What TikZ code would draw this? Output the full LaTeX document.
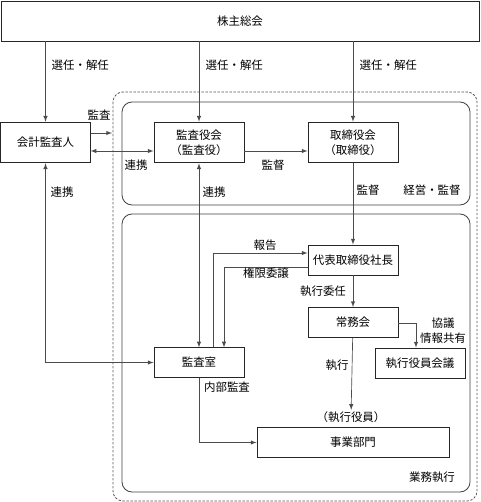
\documentclass[tikz,border=0pt]{standalone}
\usepackage{fontspec}
\usepackage{tikz}
\newfontfamily\jpfont{Noto Sans CJK JP}
\tikzstyle{box}=[shape=rectangle,draw=black!85,line width=0.7pt,fill=white,align=center,inner sep=1pt]
\tikzstyle{lbl}=[inner sep=1pt]
\tikzstyle{link}=[draw=black!70,line width=0.5pt]
\tikzstyle{area}=[draw=black!75,line width=0.6pt,rounded corners=7.5pt]

\begin{document}
\begin{tikzpicture}[x=0.75pt,y=-0.75pt,>=latex,
		every node/.style={font=\jpfont\fontsize{8.6}{11}\selectfont}]
		\useasboundingbox (0,0) rectangle (480,502);

		% areas
		\draw[area,dash pattern=on 1.8pt off 1.2pt,draw=black!65] (113,92) rectangle (477,501);
		\draw[area] (122,102) rectangle (470,205);
		\draw[area] (122,214) rectangle (470,492);

		% boxes
		\node[box,minimum width=358.5pt,minimum height=30pt] (soukai) at (240,21) {株主総会};
		\node[box,minimum width=67pt,minimum height=30.5pt] (kaikei) at (45.5,142.5) {会計監査人};
		\node[box,minimum width=67.5pt,minimum height=30.5pt] (kansayaku) at (199,142.5) {監査役会\\（監査役）};
		\node[box,minimum width=67.5pt,minimum height=30.5pt] (torishimari) at (353,142.5) {取締役会\\（取締役）};
		\node[box,minimum width=67.5pt,minimum height=22.5pt] (daihyo) at (353,260) {代表取締役社長};
		\node[box,minimum width=67.5pt,minimum height=22.5pt] (joumu) at (353,322.5) {常務会};
		\node[box,minimum width=67.5pt,minimum height=22.5pt] (kaigi) at (420,363) {執行役員会議};
		\node[box,minimum width=67.5pt,minimum height=22pt] (kansashitsu) at (199,362.5) {監査室};
		\node[box,minimum width=144pt,minimum height=22pt] (jigyou) at (353,442.5) {事業部門};
		\node[lbl] (yakuin) at (351,417) {（執行役員）};

		% helper points
		\coordinate (kansaend) at (112,133);
		\coordinate (renkei) at (0,151);
		\coordinate (houkoku) at (213,253);
		\coordinate (kengen) at (224,267);
		\coordinate (kyougi) at (416,323);

		% connectors
		\draw[link,->] (soukai.south -| kaikei) -- (kaikei.north);
		\draw[link,->] (soukai.south -| kansayaku) -- (kansayaku.north);
		\draw[link,->] (soukai.south -| torishimari) -- (torishimari.north);
		\draw[link,->] (kaikei.east |- kansaend) -- (kansaend);
		\draw[link,<->] (kaikei.east |- renkei) -- (kansayaku.west |- renkei);
		\draw[link,->] (kansayaku.east |- renkei) -- (torishimari.west |- renkei);
		\draw[link,->] (torishimari) -- (daihyo);
		\draw[link,<->] (kansayaku) -- (kansashitsu);
		\draw[link,<->] (kaikei.south) |- (kansashitsu.west);
		\draw[link,->] (kansashitsu.north -| houkoku) |- (daihyo.west |- houkoku);
		\draw[link,->] (daihyo.west |- kengen) -| (kansashitsu.north -| kengen);
		\draw[link,->] (daihyo) -- (joumu);
		\draw[link,->] (joumu.east |- kyougi) -| (kaigi.north -| kyougi);
		\draw[link,->] (joumu) -- (yakuin);
		\draw[link,->] (kansashitsu.south) |- (jigyou.west);

		% labels
		\node[lbl,anchor=west] (sen1) at (50,65) {選任・解任};
		\node[lbl,anchor=west] (sen2) at (204,65) {選任・解任};
		\node[lbl,anchor=west] (sen3) at (358,65) {選任・解任};
		\node[lbl] (l-kansa) at (99,115) {監査};
		\node[lbl] (l-renkei1) at (136,165) {連携};
		\node[lbl] (l-kantoku1) at (273,165) {監督};
		\node[lbl] (l-renkei2) at (62,192) {連携};
		\node[lbl] (l-renkei3) at (214,192) {連携};
		\node[lbl] (l-kantoku2) at (368,190) {監督};
		\node[lbl] (l-keiei) at (432,190) {経営・監督};
		\node[lbl] (l-houkoku) at (265,245) {報告};
		\node[lbl] (l-kengen) at (266,273) {権限委譲};
		\node[lbl] (l-inin) at (323,291) {執行委任};
		\node[lbl] (l-kyougi) at (443,323) {協議};
		\node[lbl] (l-kyouyu) at (443,338) {情報共有};
		\node[lbl] (l-shikkou) at (337,365) {執行};
		\node[lbl] (l-naibu) at (227,387) {内部監査};
		\node[lbl] (l-gyoumu) at (432,477) {業務執行};

\end{tikzpicture}
\end{document}
